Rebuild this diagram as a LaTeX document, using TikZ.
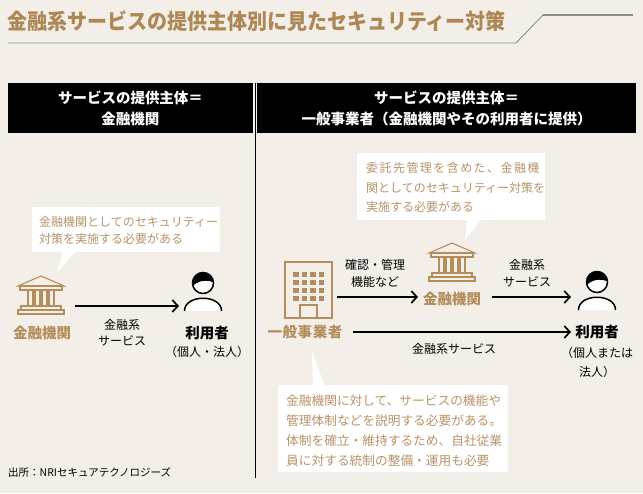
\documentclass[tikz,border=0pt]{standalone}
\usepackage{fontspec}
\setmainfont{Noto Sans CJK JP}
\usetikzlibrary{arrows.meta}
\definecolor{bgc}{HTML}{F3EFE8}
\definecolor{gold}{HTML}{B38D5B}
\definecolor{goldt}{HTML}{AD8754}
\definecolor{goldc}{HTML}{B8946A}
\definecolor{linegray}{HTML}{8E8A85}
\tikzset{
  lbl/.style={inner sep=0pt, align=center, font=\fontsize{12}{17}\selectfont},
  ctext/.style={inner sep=0pt, align=left, text=goldc, anchor=west},
  cbox/.style={fill=white, inner sep=0pt},
  hdr/.style={fill=black, text=white, inner sep=0pt, align=center, minimum height=50pt, font=\bfseries\fontsize{14.5}{21}\selectfont},
  goldname/.style={inner sep=0pt, text=gold, font=\bfseries\fontsize{14.5}{18}\selectfont},
  username/.style={inner sep=0pt, font=\bfseries\fontsize{14.5}{18}\selectfont},
  arr/.style={line width=1.7pt, -{Straight Barb[length=5.5pt,width=12pt,line width=1.7pt]}},
  bank/.pic={
    \begin{scope}[gold, line width=1.1pt]
      \draw (-23,10) -- (0,0) -- (23,10) -- cycle;
      \draw (-21,10) rectangle (21,14);
      \foreach \cx in {-13,-6,1,8} {\draw (\cx,14) rectangle (\cx+5,30);}
      \draw (-20,30) rectangle (20,34);
      \draw (-23,34) rectangle (23,38);
    \end{scope}
  },
  building/.pic={
    \draw[gold, line width=1.4pt] (0,0) rectangle (47,56);
    \foreach \cx in {8,16.5,25,33.5} {
      \foreach \cy in {10,18,26,34} {\fill[gold] (\cx,\cy) rectangle (\cx+5.5,\cy+4.5);}
    }
    \draw[gold, line width=1.4pt] (15,56) -- (15,43) -- (32,43) -- (32,56);
  },
  person/.pic={
    \fill[white] (-18.5,28) .. controls (-18.5,11) and (18.5,11) .. (18.5,28) -- cycle;
    \draw[line width=1.5pt] (-18.5,28) .. controls (-18.5,11) and (18.5,11) .. (18.5,28);
    \fill[white] (0,0) circle (10.5);
    \begin{scope}
      \clip (0,0) circle (10.5);
      \fill (-12,5) .. controls (-6,-3) and (4,-4) .. (12,0) -- (12,-12) -- (-12,-12) -- cycle;
    \end{scope}
    \draw[line width=1.5pt] (0,0) circle (10.5);
  }
}
\begin{document}
\begin{tikzpicture}[x=1pt,y=-1pt]
\fill[bgc] (0,0) rectangle (643,493);
\useasboundingbox (0,0) rectangle (643,493);

% title
\node[anchor=west, inner sep=0pt, text=goldt, font=\bfseries\fontsize{21.5}{24}\selectfont] (title) at (7,21) {\scalebox{0.93}[1]{金融系サービスの提供主体別に見たセキュリティー対策}};
\coordinate (u0) at (8,43);
\coordinate (u1) at (516,43);
\coordinate (u2) at (543,15);
\coordinate (u3) at (633,15);
\draw[linegray, line width=0.9pt] (u0) -- (u1) -- (u2);
\draw[linegray, line width=2pt] (u2) -- (u3);

% headers
\node[hdr, minimum width=245pt] (hL) at (130.5,108) {サービスの提供主体＝\\金融機関};
\node[hdr, minimum width=379pt] (hR) at (446.5,108) {サービスの提供主体＝\\一般事業者（金融機関やその利用者に提供）};
\coordinate (divtop) at (255,83);
\coordinate (divbot) at (255,478);
\draw[line width=0.8pt] (divtop) -- (divbot);

% ---------- left panel ----------
\node[cbox, minimum width=188pt, minimum height=45pt] (cL) at (126,229.5) {};
\fill[white] (63,251) -- (57,272) -- (76,251) -- cycle;
\node[ctext, font=\fontsize{12}{17}\selectfont] (cLt) at (39,230.5) {金融機関としてのセキュリティー\\対策を実施する必要がある};

\pic at (41,276) {bank};
\node[goldname] (bankL) at (42,333) {金融機関};
\pic at (203,283) {person};
\node[username] (userL) at (207,333) {利用者};
\node[lbl, font=\fontsize{12}{16}\selectfont] (userLs) at (207,352) {（個人・法人）};
\coordinate (aL1) at (75,306);
\coordinate (aL2) at (179,306);
\draw[arr] (aL1) -- (aL2);
\node[lbl, font=\fontsize{12}{15.5}\selectfont] (svcL) at (122,332.5) {金融系\\サービス};

% ---------- right panel ----------
\node[cbox, minimum width=188pt, minimum height=67pt] (cR) at (451,186.5) {};
\fill[white] (467,219) -- (465,240) -- (482,219) -- cycle;
\node[ctext, font=\fontsize{12}{19.5}\selectfont] (cRt) at (366,187.5) {{\addfontfeature{LetterSpace=12}委託先管理を含めた、金融機}\\関としてのセキュリティー対策を\\実施する必要がある};

\pic at (285,262) {building};
\node[goldname, font=\bfseries\fontsize{14.5}{18}\selectfont\addfontfeature{LetterSpace=4}] (gen) at (305,332) {一般事業者};
\pic at (452,243) {bank};
\node[goldname] (bankR) at (452,299) {金融機関};
\pic at (597,282) {person};
\node[username] (userR) at (597,332) {利用者};
\node[lbl, font=\fontsize{12}{19}\selectfont] (userRs) at (597,362.5) {（個人または\\法人）};

\coordinate (aR1) at (337,297);
\coordinate (aR2) at (418,297);
\draw[arr] (aR1) -- (aR2);
\node[lbl, font=\fontsize{12}{17}\selectfont] (chk) at (375,273.5) {確認・管理\\機能など};
\coordinate (aR3) at (492,297);
\coordinate (aR4) at (571,297);
\draw[arr] (aR3) -- (aR4);
\node[lbl, font=\fontsize{12}{17}\selectfont] (svcR) at (527,273.5) {金融系\\サービス};
\coordinate (aR5) at (353,332);
\coordinate (aR6) at (571,332);
\draw[arr] (aR5) -- (aR6);
\node[lbl] (svcR2) at (454,349) {金融系サービス};

% bottom callout
\node[cbox, minimum width=230pt, minimum height=87pt] (cB) at (393,428.5) {};
\fill[white] (312,352) -- (313,386) -- (325,386) -- cycle;
\node[ctext, font=\fontsize{12.7}{20}\selectfont] (cBt) at (286,430.5) {金融機関に対して、サービスの機能や\\管理体制などを説明する必要がある。\\体制を確立・維持するため、自社従業\\員に対する統制の整備・運用も必要};

% source
\node[anchor=west, inner sep=0pt, font=\fontsize{10.5}{12}\selectfont] (src) at (8,472) {出所：NRIセキュアテクノロジーズ};
\end{tikzpicture}
\end{document}
